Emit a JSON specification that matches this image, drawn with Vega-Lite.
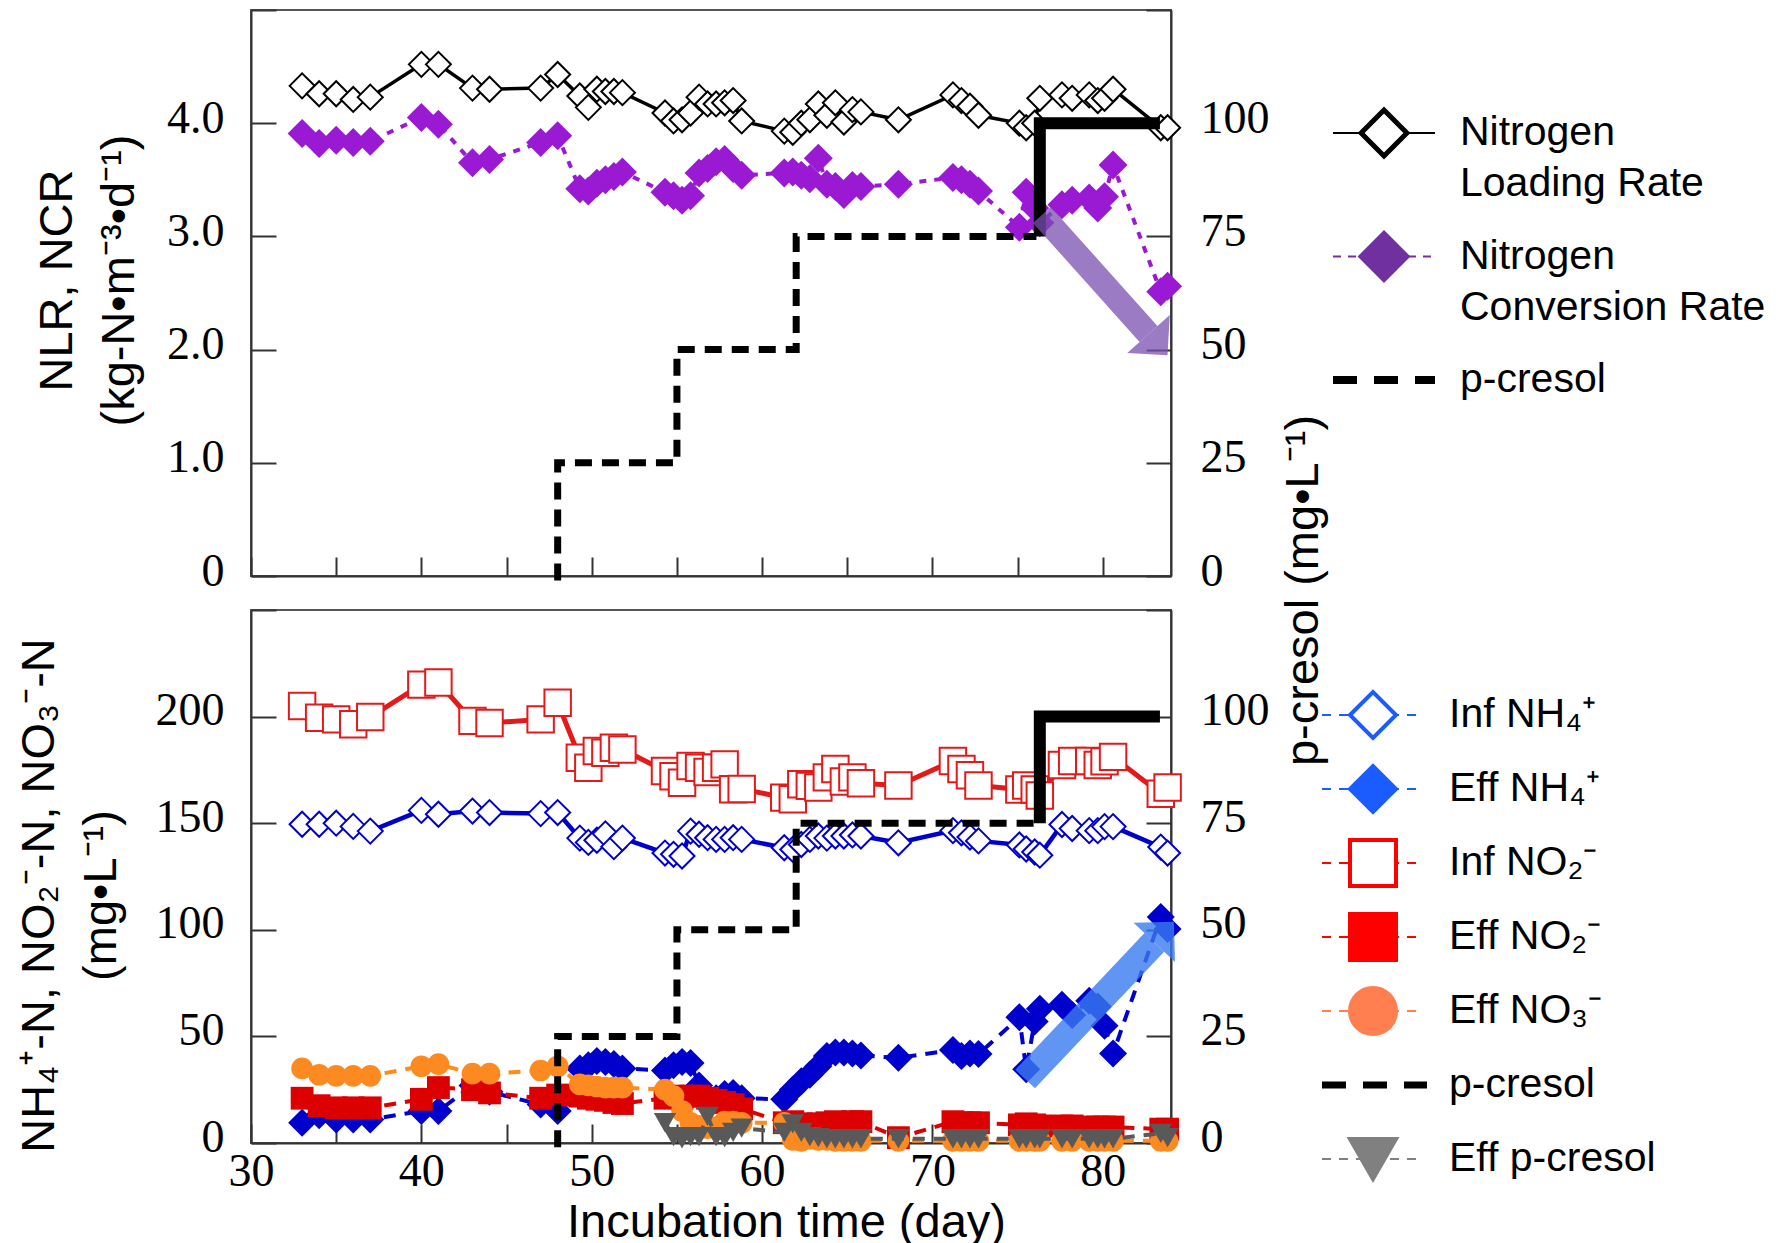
{
  "$schema": "https://vega.github.io/schema/vega-lite/v6.json",
  "padding": {"left": 14, "top": 8, "right": 0, "bottom": 0},
  "autosize": {"type": "pad"},
  "background": "white",
  "config": {
    "view": {"stroke": "#555", "strokeWidth": 2},
    "font": "Liberation Sans",
    "axis": {
      "labelFont": "Liberation Serif", "labelFontSize": 46, "labelColor": "black",
      "titleFont": "Liberation Sans", "titleFontSize": 47, "titleFontWeight": "normal", "titleColor": "black",
      "grid": false, "domainColor": "#333", "domainWidth": 2, "tickColor": "#333", "tickWidth": 2, "labelFlush": false
    }
  },
  "datasets": {
    "top": [
      {"d":33,"n":4.33,"r":3.91},{"d":34,"n":4.26,"r":3.82},{"d":35,"n":4.26,"r":3.85},{"d":36,"n":4.21,"r":3.83},{"d":37,"n":4.23,"r":3.84},
      {"d":40,"n":4.52,"r":4.05},{"d":41,"n":4.52,"r":3.99},{"d":43,"n":4.31,"r":3.65},{"d":44,"n":4.30,"r":3.68},{"d":47,"n":4.31,"r":3.83},
      {"d":48,"n":4.43,"r":3.89},{"d":49.3,"n":4.24,"r":3.42},{"d":49.8,"n":4.14,"r":3.40},{"d":50.3,"n":4.30,"r":3.47},{"d":50.8,"n":4.28,"r":3.50},
      {"d":51.3,"n":4.28,"r":3.53},{"d":51.8,"n":4.27,"r":3.57},{"d":54.3,"n":4.09,"r":3.39},{"d":54.8,"n":4.02,"r":3.36},{"d":55.3,"n":4.03,"r":3.32},
      {"d":55.8,"n":4.09,"r":3.36},{"d":56.3,"n":4.23,"r":3.56},{"d":56.8,"n":4.17,"r":3.60},{"d":57.3,"n":4.17,"r":3.66},{"d":57.8,"n":4.18,"r":3.68},
      {"d":58.3,"n":4.20,"r":3.60},{"d":58.8,"n":4.02,"r":3.54},{"d":61.3,"n":3.93,"r":3.56},{"d":61.8,"n":3.92,"r":3.57},{"d":62.3,"n":4.00,"r":3.54},
      {"d":62.8,"n":4.03,"r":3.51},{"d":63.3,"n":4.17,"r":3.69},{"d":63.8,"n":4.07,"r":3.46},{"d":64.3,"n":4.18,"r":3.44},{"d":64.8,"n":4.01,"r":3.37},
      {"d":65.3,"n":4.12,"r":3.45},{"d":65.8,"n":4.10,"r":3.44},{"d":68,"n":4.03,"r":3.46},{"d":71.2,"n":4.25,"r":3.52},{"d":71.7,"n":4.20,"r":3.50},
      {"d":72.2,"n":4.15,"r":3.46},{"d":72.7,"n":4.07,"r":3.40},{"d":75.1,"n":4.00,"r":3.08},{"d":75.5,"n":3.96,"r":3.39},{"d":76,"n":4.00,"r":3.25},
      {"d":76.3,"n":4.22,"r":3.12},{"d":77.6,"n":4.25,"r":3.28},{"d":78.2,"n":4.22,"r":3.32},{"d":79.2,"n":4.25,"r":3.34},{"d":79.7,"n":4.20,"r":3.25},
      {"d":80.1,"n":4.22,"r":3.35},{"d":80.6,"n":4.30,"r":3.63},{"d":83.4,"n":3.96,"r":2.51},{"d":83.8,"n":3.96,"r":2.56}
    ],
    "bot": [
      {"d":33,"a":149.5,"b":9.5,"c":205,"e":21,"f":35,"g":null},
      {"d":34,"a":149.5,"b":13,"c":199.5,"e":17.5,"f":32,"g":null},
      {"d":35,"a":150,"b":11,"c":198.7,"e":16.5,"f":31.5,"g":null},
      {"d":36,"a":148.5,"b":11,"c":196.4,"e":16.5,"f":31.5,"g":null},
      {"d":37,"a":146.3,"b":11,"c":199.8,"e":16.5,"f":31.5,"g":null},
      {"d":40,"a":156,"b":15,"c":215,"e":20.5,"f":36,"g":null},
      {"d":41,"a":154.2,"b":15,"c":216,"e":26,"f":37,"g":null},
      {"d":43,"a":155.7,"b":27,"c":198,"e":25,"f":32.5,"g":null},
      {"d":44,"a":155,"b":24,"c":197,"e":23.5,"f":32.5,"g":null},
      {"d":47,"a":154.5,"b":18,"c":198.7,"e":21,"f":34,"g":null},
      {"d":48,"a":155,"b":15,"c":206.5,"e":22.5,"f":36,"g":null},
      {"d":49.3,"a":143,"b":35,"c":180.7,"e":22,"f":27.5,"g":null},
      {"d":49.8,"a":141,"b":36.5,"c":176,"e":21,"f":27,"g":null},
      {"d":50.3,"a":142,"b":38.5,"c":183.9,"e":20.5,"f":26.5,"g":null},
      {"d":50.8,"a":145,"b":38,"c":183,"e":20,"f":26,"g":null},
      {"d":51.3,"a":139,"b":37,"c":185.4,"e":19,"f":26,"g":null},
      {"d":51.8,"a":143,"b":35,"c":184.6,"e":18.5,"f":26,"g":null},
      {"d":54.3,"a":136,"b":34,"c":174.5,"e":21,"f":25,"g":9.5},
      {"d":54.8,"a":135.4,"b":36.5,"c":172,"e":22,"f":22,"g":3},
      {"d":55.3,"a":134.6,"b":38,"c":169,"e":21,"f":15,"g":2},
      {"d":55.8,"a":146.3,"b":37.5,"c":176.8,"e":22,"f":9.5,"g":3},
      {"d":56.3,"a":144.8,"b":27,"c":176,"e":22,"f":8,"g":3},
      {"d":56.8,"a":143.2,"b":21,"c":174,"e":21,"f":7,"g":12.5},
      {"d":57.3,"a":142.4,"b":21,"c":176,"e":20,"f":7.5,"g":3},
      {"d":57.8,"a":142.4,"b":23,"c":177.6,"e":19,"f":10,"g":2.5},
      {"d":58.3,"a":143.2,"b":23.5,"c":165.9,"e":18,"f":10,"g":5},
      {"d":58.8,"a":142.4,"b":21,"c":166,"e":16,"f":9.5,"g":7},
      {"d":61.3,"a":138.5,"b":20.5,"c":162,"e":9.5,"f":9.5,"g":5},
      {"d":61.8,"a":137.7,"b":25,"c":161.2,"e":10,"f":1.5,"g":9},
      {"d":62.3,"a":140,"b":29,"c":168.3,"e":9,"f":1,"g":5},
      {"d":62.8,"a":142.4,"b":32,"c":167.5,"e":8.8,"f":2,"g":3},
      {"d":63.3,"a":144,"b":36,"c":166.7,"e":9,"f":1.5,"g":2.5},
      {"d":63.8,"a":143,"b":40.8,"c":171.5,"e":9.5,"f":1.5,"g":2},
      {"d":64.3,"a":144,"b":42.4,"c":175.4,"e":10,"f":1,"g":2},
      {"d":64.8,"a":144,"b":42.4,"c":169.6,"e":9.5,"f":1,"g":2},
      {"d":65.3,"a":144.5,"b":42,"c":171.5,"e":10,"f":1,"g":2},
      {"d":65.8,"a":144,"b":41,"c":168.7,"e":10,"f":1,"g":2},
      {"d":68,"a":140.8,"b":40,"c":167.7,"e":2.5,"f":1,"g":2},
      {"d":71.2,"a":146.5,"b":43.6,"c":179.2,"e":10,"f":1,"g":2},
      {"d":71.7,"a":145.5,"b":40.8,"c":175.4,"e":9.5,"f":1,"g":2},
      {"d":72.2,"a":143.5,"b":42,"c":172.5,"e":9.5,"f":1,"g":2},
      {"d":72.7,"a":141.7,"b":41.7,"c":167.7,"e":9.5,"f":1,"g":2},
      {"d":75.1,"a":139.8,"b":59,"c":165.8,"e":8.5,"f":1,"g":2},
      {"d":75.5,"a":137.9,"b":34.6,"c":167.7,"e":9,"f":1,"g":2},
      {"d":76,"a":136.5,"b":57,"c":165.8,"e":8.5,"f":1,"g":2},
      {"d":76.3,"a":135,"b":63,"c":163,"e":8,"f":1,"g":2},
      {"d":77.6,"a":149.4,"b":64.8,"c":177.3,"e":8,"f":1,"g":2},
      {"d":78.2,"a":147.5,"b":60,"c":179.2,"e":8,"f":1,"g":2},
      {"d":79.2,"a":146.5,"b":66.7,"c":179.2,"e":7.5,"f":1,"g":2},
      {"d":79.7,"a":146.5,"b":64,"c":177.3,"e":7.5,"f":1,"g":2},
      {"d":80.1,"a":148.4,"b":55,"c":179,"e":7.5,"f":1,"g":2},
      {"d":80.6,"a":148.4,"b":42,"c":181.1,"e":7.5,"f":1,"g":2},
      {"d":83.4,"a":138.8,"b":106,"c":163.8,"e":6.5,"f":1,"g":4.5},
      {"d":83.8,"a":136,"b":100.4,"c":166.7,"e":6.5,"f":1,"g":2.5}
    ],
    "step": [
      {"k":"dash","o":1,"d":48,"v":-1},{"k":"dash","o":2,"d":48,"v":25},{"k":"dash","o":3,"d":55,"v":25},
      {"k":"dash","o":4,"d":55,"v":50},{"k":"dash","o":5,"d":62,"v":50},{"k":"dash","o":6,"d":62,"v":75},
      {"k":"dash","o":7,"d":76.1,"v":75},
      {"k":"solid","o":1,"d":76.3,"v":75},{"k":"solid","o":2,"d":76.3,"v":100},{"k":"solid","o":3,"d":83.35,"v":100}
    ],
    "arrow": [
      {"p":"top","d":76.42,"v":79.75,"d2":82.68,"v2":53.45},
      {"p":"bot","d":75.44,"v":15,"d2":83.02,"v2":47.05}
    ],
    "legTop": [
      {"ts":"NLR","t1":"Nitrogen","t2":"Loading Rate"},
      {"ts":"NCR","t1":"Nitrogen","t2":"Conversion Rate"},
      {"ts":"PC","t1":"p-cresol","t2":""}
    ],
    "legBot": [
      {"bs":"InfNH4","t":"Inf NH₄⁺"},
      {"bs":"EffNH4","t":"Eff NH₄⁺"},
      {"bs":"InfNO2","t":"Inf NO₂⁻"},
      {"bs":"EffNO2","t":"Eff NO₂⁻"},
      {"bs":"EffNO3","t":"Eff NO₃⁻"},
      {"bs":"PC","t":"p-cresol"},
      {"bs":"EffPC","t":"Eff p-cresol"}
    ]
  },
  "columns": 2,
  "spacing": {"row": 34, "column": 131},
  "bounds": "flush",
  "align": "each",
  "resolve": {"scale": {"color": "independent", "fill": "independent", "stroke": "independent", "shape": "independent", "size": "independent", "strokeDash": "independent", "x": "independent", "y": "independent"}},
  "concat": [
    {
      "width": 920, "height": 566,
      "layer": [
        {
          "data": {"name": "top"},
          "layer": [
            {"mark": {"type": "line", "color": "black", "strokeWidth": 3.5},
             "encoding": {
               "x": {"field": "d", "type": "quantitative", "scale": {"domain": [30, 84], "nice": false, "zero": false},
                     "axis": {"orient": "bottom", "values": [30,35,40,45,50,55,60,65,70,75,80], "labels": false, "title": null, "tickSize": -19}},
               "y": {"field": "n", "type": "quantitative", "scale": {"domain": [0, 5], "nice": false},
                     "axis": {"orient": "left", "values": [0,1,2,3,4,5],
                              "labelExpr": "datum.value == 5 ? '' : (datum.value == 0 ? '0' : format(datum.value, '.1f'))",
                              "tickSize": -25, "labelPadding": 52, "labelOffset": -5,
                              "title": ["NLR, NCR", "(kg-N•m⁻³•d⁻¹)"], "titleAngle": 270, "titleAlign": "center", "titleBaseline": "top",
                              "titleX": -217, "titleY": 270, "titleLineHeight": 62}}}},
            {"mark": {"type": "point", "shape": "diamond", "filled": true, "fill": "white", "stroke": "black", "strokeWidth": 2, "size": 625, "opacity": 1},
             "encoding": {"x": {"field": "d", "type": "quantitative"}, "y": {"field": "n", "type": "quantitative"}}},
            {"mark": {"type": "line", "color": "#9a1ad4", "strokeWidth": 4, "strokeDash": [7, 8]},
             "encoding": {"x": {"field": "d", "type": "quantitative"}, "y": {"field": "r", "type": "quantitative"}}},
            {"mark": {"type": "point", "shape": "diamond", "filled": true, "color": "#9a1ad4", "size": 841, "opacity": 1},
             "encoding": {"x": {"field": "d", "type": "quantitative"}, "y": {"field": "r", "type": "quantitative"}}}
          ]
        },
        {
          "layer": [
            {"data": {"name": "step"}, "transform": [{"filter": "datum.k == 'dash'"}],
             "mark": {"type": "line", "color": "black", "strokeWidth": 7, "strokeDash": [17, 10], "strokeCap": "butt", "strokeJoin": "miter"},
             "encoding": {
               "x": {"field": "d", "type": "quantitative"},
               "y": {"field": "v", "type": "quantitative", "scale": {"domain": [0, 125], "nice": false},
                     "axis": {"orient": "right", "values": [0,25,50,75,100,125],
                              "labelExpr": "datum.value == 125 ? '' : datum.label",
                              "tickSize": -25, "labelPadding": 54, "labelOffset": -5,
                              "title": "p-cresol (mg•L⁻¹)", "titleAngle": 270, "titleAlign": "center", "titleBaseline": "middle",
                              "titleX": 132, "titleY": 580}},
               "order": {"field": "o"}}},
            {"data": {"name": "step"}, "transform": [{"filter": "datum.k == 'solid'"}],
             "mark": {"type": "line", "color": "black", "strokeWidth": 12, "strokeJoin": "miter", "strokeCap": "butt"},
             "encoding": {"x": {"field": "d", "type": "quantitative"}, "y": {"field": "v", "type": "quantitative"}, "order": {"field": "o"}}},
            {"data": {"name": "arrow"}, "transform": [{"filter": "datum.p == 'top'"}],
             "mark": {"type": "rule", "color": "#7a4fb0", "opacity": 0.75, "strokeWidth": 24},
             "encoding": {"x": {"field": "d", "type": "quantitative"}, "y": {"field": "v", "type": "quantitative"}, "x2": {"field": "d2"}, "y2": {"field": "v2"}}},
            {"data": {"name": "arrow"}, "transform": [{"filter": "datum.p == 'top'"}],
             "mark": {"type": "point", "shape": "M1,0L0,-1L0,1Z", "filled": true, "color": "#7a4fb0", "opacity": 0.75, "size": 3249, "angle": 48.2},
             "encoding": {"x": {"field": "d2", "type": "quantitative"}, "y": {"field": "v2", "type": "quantitative"}}}
          ]
        }
      ],
      "resolve": {"scale": {"y": "independent"}}
    },
    {
      "width": 476, "height": 566,
      "view": {"stroke": null},
      "data": {"name": "legTop"},
      "layer": [
        {"transform": [{"filter": "datum.ts != 'PC'"}],
         "mark": {"type": "rule", "strokeWidth": 2},
         "encoding": {
           "x": {"datum": 31, "type": "quantitative", "scale": {"domain": [0, 476], "nice": false, "zero": false}, "axis": null},
           "x2": {"datum": 133},
           "y": {"field": "ts", "type": "nominal", "scale": {"type": "point", "domain": ["NLR", "NCR", "PC"], "range": [123, 370], "padding": 0}, "axis": null},
           "color": {"field": "ts", "type": "nominal", "scale": {"domain": ["NLR", "NCR"], "range": ["black", "#7030a0"]}, "legend": null},
           "strokeDash": {"field": "ts", "type": "nominal", "scale": {"domain": ["NLR", "NCR"], "range": [[1, 0], [8, 7]]}, "legend": null}}},
        {"transform": [{"filter": "datum.ts == 'PC'"}],
         "mark": {"type": "rule", "color": "black", "strokeWidth": 8, "strokeDash": [24, 17]},
         "encoding": {"x": {"datum": 31, "type": "quantitative"}, "x2": {"datum": 133}, "y": {"field": "ts", "type": "nominal"}}},
        {"transform": [{"filter": "datum.ts != 'PC'"}],
         "mark": {"type": "point", "shape": "diamond", "filled": true, "size": 2100, "strokeWidth": 5, "opacity": 1},
         "encoding": {
           "x": {"datum": 82, "type": "quantitative"},
           "y": {"field": "ts", "type": "nominal"},
           "fill": {"field": "ts", "type": "nominal", "scale": {"domain": ["NLR", "NCR"], "range": ["white", "#7030a0"]}, "legend": null},
           "stroke": {"field": "ts", "type": "nominal", "scale": {"domain": ["NLR", "NCR"], "range": ["black", "#7030a0"]}, "legend": null}}},
        {"mark": {"type": "text", "align": "left", "baseline": "middle", "fontSize": 41, "font": "Liberation Sans", "color": "black"},
         "encoding": {"x": {"datum": 158, "type": "quantitative"}, "y": {"field": "ts", "type": "nominal"}, "text": {"field": "t1"}}},
        {"mark": {"type": "text", "align": "left", "baseline": "middle", "fontSize": 41, "font": "Liberation Sans", "color": "black", "dy": 51},
         "encoding": {"x": {"datum": 158, "type": "quantitative"}, "y": {"field": "ts", "type": "nominal"}, "text": {"field": "t2"}}}
      ]
    },
    {
      "width": 920, "height": 533,
      "layer": [
        {
          "data": {"name": "bot"},
          "layer": [
            {"mark": {"type": "line", "color": "#0000cc", "strokeWidth": 4.5},
             "encoding": {
               "x": {"field": "d", "type": "quantitative", "scale": {"domain": [30, 84], "nice": false, "zero": false},
                     "axis": {"orient": "bottom", "values": [30,35,40,45,50,55,60,65,70,75,80],
                              "labelExpr": "datum.value % 10 == 0 ? datum.label : ''",
                              "tickSize": -19, "labelPadding": 25,
                              "title": "Incubation time (day)", "titleX": 535, "titleY": 79, "titleAlign": "center", "titleBaseline": "middle"}},
               "y": {"field": "a", "type": "quantitative", "scale": {"domain": [0, 250], "nice": false},
                     "axis": {"orient": "left", "values": [0,50,100,150,200,250],
                              "labelExpr": "datum.value == 250 ? '' : datum.label",
                              "tickSize": -25, "labelPadding": 52, "labelOffset": -6,
                              "title": ["NH₄⁺-N, NO₂⁻-N, NO₃⁻-N", "(mg•L⁻¹)"], "titleAngle": 270, "titleAlign": "center", "titleBaseline": "top",
                              "titleX": -235, "titleY": 285, "titleLineHeight": 62}}}},
            {"mark": {"type": "point", "shape": "diamond", "filled": true, "fill": "white", "stroke": "#0000cc", "strokeWidth": 2, "size": 625, "opacity": 1},
             "encoding": {"x": {"field": "d", "type": "quantitative"}, "y": {"field": "a", "type": "quantitative"}}},
            {"mark": {"type": "line", "color": "#e41a1a", "strokeWidth": 5},
             "encoding": {"x": {"field": "d", "type": "quantitative"}, "y": {"field": "c", "type": "quantitative"}}},
            {"mark": {"type": "point", "shape": "square", "filled": true, "fill": "white", "stroke": "#e41a1a", "strokeWidth": 2, "size": 700, "opacity": 1},
             "encoding": {"x": {"field": "d", "type": "quantitative"}, "y": {"field": "c", "type": "quantitative"}}},
            {"mark": {"type": "line", "color": "#0000cc", "strokeWidth": 4, "strokeDash": [12, 9]},
             "encoding": {"x": {"field": "d", "type": "quantitative"}, "y": {"field": "b", "type": "quantitative"}}},
            {"mark": {"type": "point", "shape": "diamond", "filled": true, "color": "#0000cc", "size": 784, "opacity": 1},
             "encoding": {"x": {"field": "d", "type": "quantitative"}, "y": {"field": "b", "type": "quantitative"}}},
            {"mark": {"type": "line", "color": "#dd0000", "strokeWidth": 4, "strokeDash": [12, 9]},
             "encoding": {"x": {"field": "d", "type": "quantitative"}, "y": {"field": "e", "type": "quantitative"}}},
            {"mark": {"type": "point", "shape": "square", "filled": true, "color": "#dd0000", "size": 520, "opacity": 1},
             "encoding": {"x": {"field": "d", "type": "quantitative"}, "y": {"field": "e", "type": "quantitative"}}},
            {"mark": {"type": "line", "color": "#ff8c1a", "strokeWidth": 4, "strokeDash": [12, 9]},
             "encoding": {"x": {"field": "d", "type": "quantitative"}, "y": {"field": "f", "type": "quantitative"}}},
            {"mark": {"type": "point", "shape": "circle", "filled": true, "color": "#fd8a20", "size": 470, "opacity": 1},
             "encoding": {"x": {"field": "d", "type": "quantitative"}, "y": {"field": "f", "type": "quantitative"}}},
            {"mark": {"type": "line", "color": "#595959", "strokeWidth": 4, "strokeDash": [12, 9]},
             "encoding": {"x": {"field": "d", "type": "quantitative"}, "y": {"field": "g", "type": "quantitative"}}},
            {"mark": {"type": "point", "shape": "triangle-down", "filled": true, "color": "#595959", "size": 500, "opacity": 1},
             "encoding": {"x": {"field": "d", "type": "quantitative"}, "y": {"field": "g", "type": "quantitative"}}}
          ]
        },
        {
          "layer": [
            {"data": {"name": "step"}, "transform": [{"filter": "datum.k == 'dash'"}],
             "mark": {"type": "line", "color": "black", "strokeWidth": 7, "strokeDash": [17, 10], "strokeCap": "butt", "strokeJoin": "miter"},
             "encoding": {
               "x": {"field": "d", "type": "quantitative"},
               "y": {"field": "v", "type": "quantitative", "scale": {"domain": [0, 125], "nice": false},
                     "axis": {"orient": "right", "values": [0,25,50,75,100,125],
                              "labelExpr": "datum.value == 125 ? '' : datum.label",
                              "tickSize": -25, "labelPadding": 54, "labelOffset": -6, "title": null}},
               "order": {"field": "o"}}},
            {"data": {"name": "step"}, "transform": [{"filter": "datum.k == 'solid'"}],
             "mark": {"type": "line", "color": "black", "strokeWidth": 12, "strokeJoin": "miter", "strokeCap": "butt"},
             "encoding": {"x": {"field": "d", "type": "quantitative"}, "y": {"field": "v", "type": "quantitative"}, "order": {"field": "o"}}},
            {"data": {"name": "arrow"}, "transform": [{"filter": "datum.p == 'bot'"}],
             "mark": {"type": "rule", "color": "#3a7af0", "opacity": 0.8, "strokeWidth": 27},
             "encoding": {"x": {"field": "d", "type": "quantitative"}, "y": {"field": "v", "type": "quantitative"}, "x2": {"field": "d2"}, "y2": {"field": "v2"}}},
            {"data": {"name": "arrow"}, "transform": [{"filter": "datum.p == 'bot'"}],
             "mark": {"type": "point", "shape": "M1,0L0,-1L0,1Z", "filled": true, "color": "#3a7af0", "opacity": 0.8, "size": 3249, "angle": -46.6},
             "encoding": {"x": {"field": "d2", "type": "quantitative"}, "y": {"field": "v2", "type": "quantitative"}}}
          ]
        }
      ],
      "resolve": {"scale": {"y": "independent"}}
    },
    {
      "width": 476, "height": 533,
      "view": {"stroke": null},
      "data": {"name": "legBot"},
      "layer": [
        {"transform": [{"filter": "datum.bs != 'PC'"}],
         "mark": {"type": "rule", "strokeWidth": 2, "strokeDash": [9, 8]},
         "encoding": {
           "x": {"datum": 20, "type": "quantitative", "scale": {"domain": [0, 476], "nice": false, "zero": false}, "axis": null},
           "x2": {"datum": 122},
           "y": {"field": "bs", "type": "nominal", "scale": {"type": "point", "domain": ["InfNH4", "EffNH4", "InfNO2", "EffNO2", "EffNO3", "PC", "EffPC"], "range": [105, 549], "padding": 0}, "axis": null},
           "color": {"field": "bs", "type": "nominal", "scale": {"domain": ["InfNH4", "EffNH4", "InfNO2", "EffNO2", "EffNO3", "EffPC"], "range": ["#1a5cff", "#1a5cff", "#ff0000", "#ff0000", "#ff7f50", "#808080"]}, "legend": null}}},
        {"transform": [{"filter": "datum.bs == 'PC'"}],
         "mark": {"type": "rule", "color": "black", "strokeWidth": 7, "strokeDash": [24, 17]},
         "encoding": {"x": {"datum": 20, "type": "quantitative"}, "x2": {"datum": 125}, "y": {"field": "bs", "type": "nominal"}}},
        {"transform": [{"filter": "datum.bs != 'PC'"}],
         "mark": {"type": "point", "filled": true, "strokeWidth": 4, "opacity": 1},
         "encoding": {
           "x": {"datum": 71, "type": "quantitative"},
           "y": {"field": "bs", "type": "nominal"},
           "shape": {"field": "bs", "type": "nominal", "scale": {"domain": ["InfNH4", "EffNH4", "InfNO2", "EffNO2", "EffNO3", "EffPC"], "range": ["diamond", "diamond", "square", "square", "circle", "triangle-down"]}, "legend": null},
           "size": {"field": "bs", "type": "nominal", "scale": {"domain": ["InfNH4", "EffNH4", "InfNO2", "EffNO2", "EffNO3", "EffPC"], "range": [2116, 2116, 1024, 1024, 1296, 1936]}, "legend": null},
           "fill": {"field": "bs", "type": "nominal", "scale": {"domain": ["InfNH4", "EffNH4", "InfNO2", "EffNO2", "EffNO3", "EffPC"], "range": ["white", "#1a5cff", "white", "#ff0000", "#ff7f50", "#808080"]}, "legend": null},
           "stroke": {"field": "bs", "type": "nominal", "scale": {"domain": ["InfNH4", "EffNH4", "InfNO2", "EffNO2", "EffNO3", "EffPC"], "range": ["#1a5cff", "#1a5cff", "#ff0000", "#ff0000", "#ff7f50", "#808080"]}, "legend": null}}},
        {"mark": {"type": "text", "align": "left", "baseline": "middle", "fontSize": 41, "font": "Liberation Sans", "color": "black"},
         "encoding": {"x": {"datum": 147, "type": "quantitative"}, "y": {"field": "bs", "type": "nominal"}, "text": {"field": "t"}}}
      ]
    }
  ]
}
